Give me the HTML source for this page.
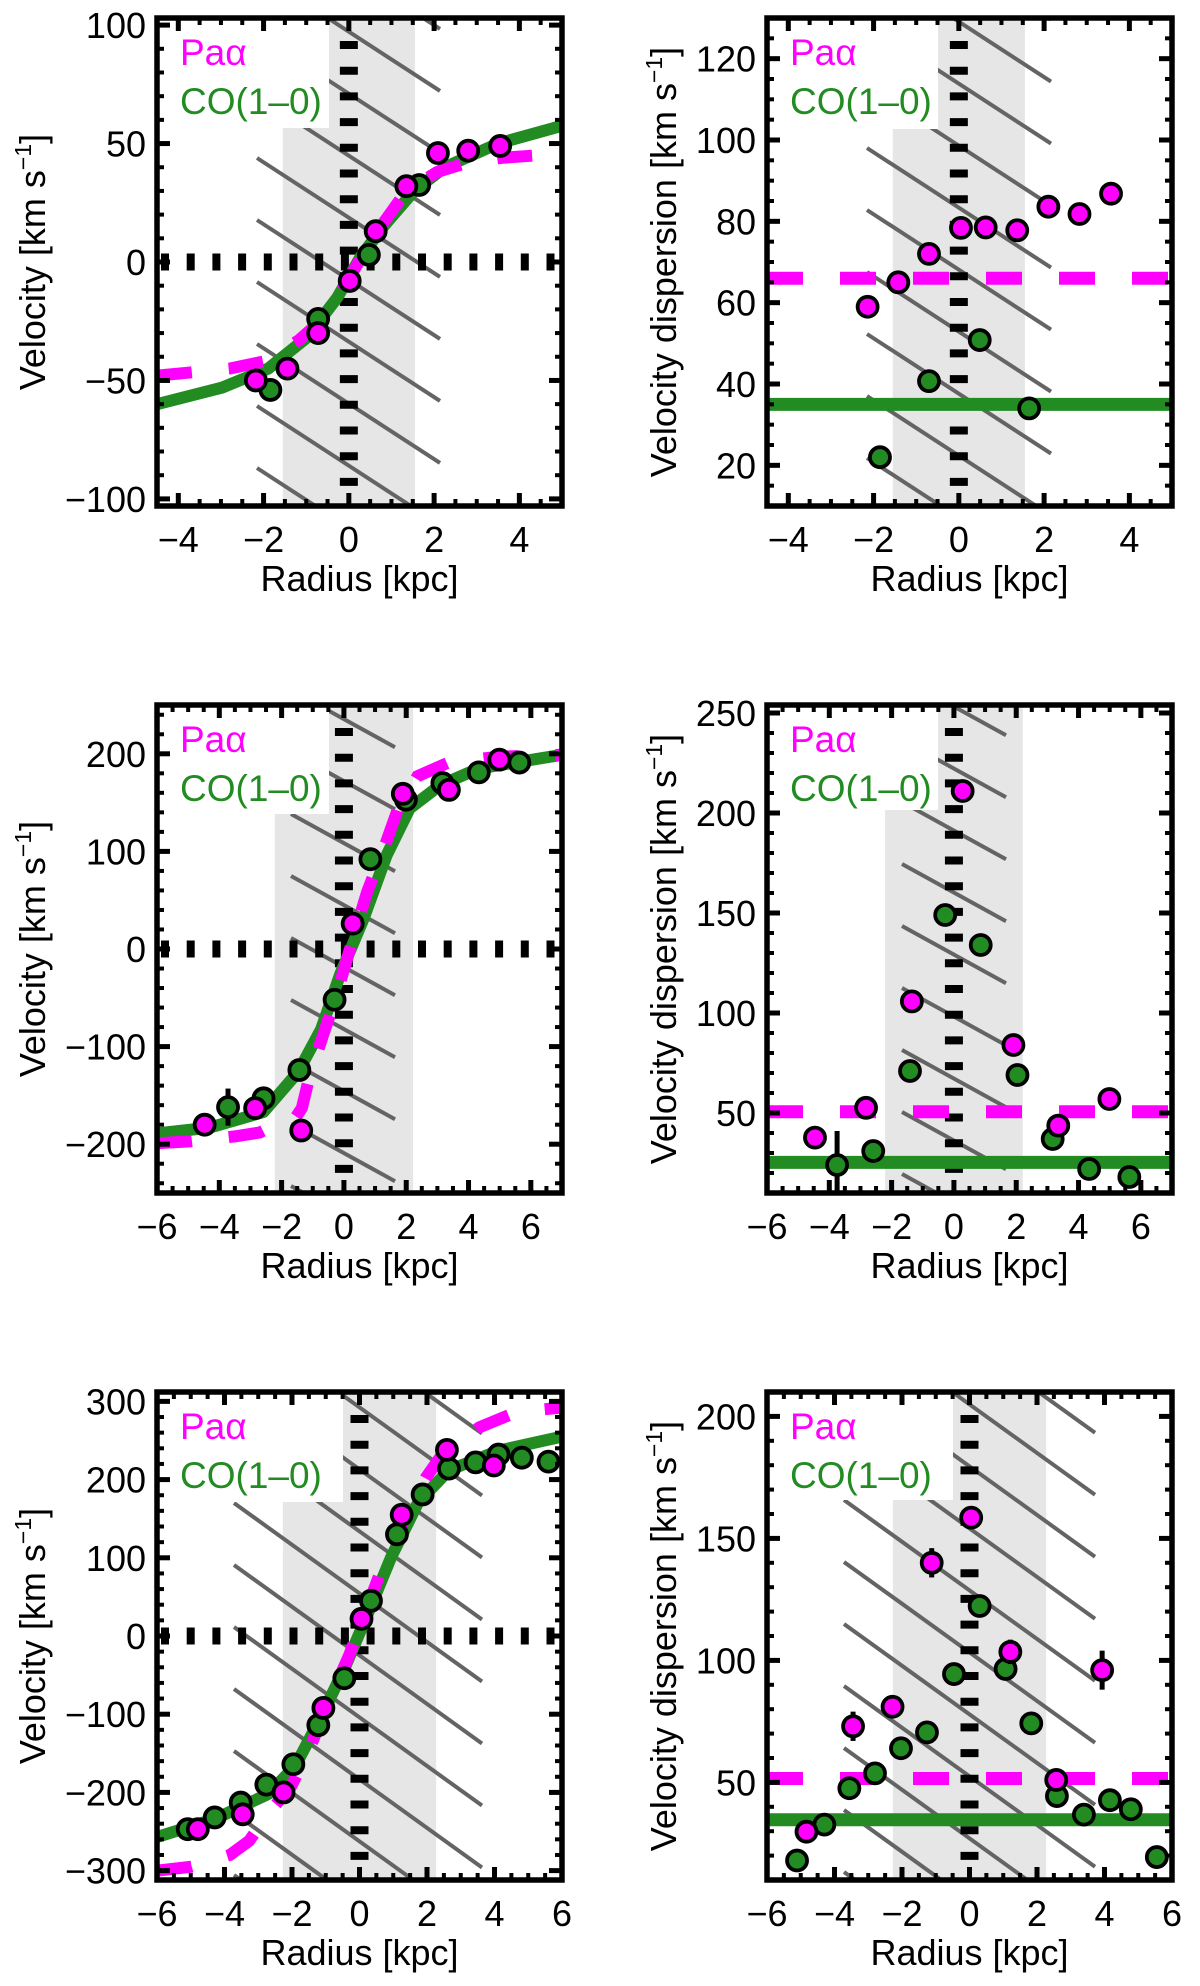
<!DOCTYPE html>
<html><head><meta charset="utf-8"><style>
html,body{margin:0;padding:0;background:#fff;overflow:hidden;width:1200px;height:1986px;}
svg{display:block;font-family:"Liberation Sans",Arial,sans-serif;}
</style></head><body>
<svg id="fig" width="1200" height="1986" viewBox="0 0 1200 1986" xmlns="http://www.w3.org/2000/svg"></svg>
<script>
// ---------- DATA ----------
const aPaX=[-2.18,-1.44,-0.72,0.02,0.63,1.35,2.09,2.80,3.55];
const aPaV=[-50,-45,-30,-8,13,32,46,47,49];
const aCoX=[-1.84,-0.72,0.47,1.65];
const aCoV=[-54,-24,3,32.5];
const aCoCurveX=[-4.5,-2.97,-1.89,-0.99,-0.27,0.27,0.81,1.53,2.25,3.5,5.0];
const aCoCurveV=[-60,-53,-45,-32,-15,2,15,30,40,50,57.5];
const aPaCurveX=[-4.5,-2.8,-2.0,-1.17,-0.54,0,0.63,1.35,2.07,2.79,3.6,4.4];
const aPaCurveV=[-48,-45,-42,-33,-23,-7,12,30,38,42,44,45];
const bPaX=[-2.14,-1.42,-0.70,0.05,0.63,1.37,2.10,2.83,3.57];
const bPaV=[59,65,72,78.4,78.5,77.8,83.6,81.8,86.8];
const bPaErr=[0,0,0,0,0,0,0,0,2.5];
const bCoX=[-1.85,-0.70,0.49,1.65];
const bCoV=[22,40.7,50.8,34];
const bCoErr=[0,0,0,0];
const bPaLevel=[66];
const bCoLevel=[35];
const cPaX=[-4.47,-2.85,-1.37,0.28,1.89,3.37,4.99];
const cPaV=[-180,-163,-186,26,159,163,194];
const cCoX=[-3.72,-2.58,-1.43,-0.30,0.85,1.99,3.16,4.33,5.63];
const cCoV=[-162,-153,-124,-52,92,153,170,181,191];
const cCoErr=[19,0,0,0,0,0,0,0,0];
const cCoCurveX=[-6,-4.31,-2.58,-1.47,-0.73,-0.11,0.63,1.37,2.11,3.1,4.33,7.0];
const cCoCurveV=[-189,-183,-167,-126,-82,-25,31,96,144,168,185,199];
const cPaCurveX=[-6,-4.9,-3.5,-2.7,-2.2,-1.6,-1.35,-1.1,-0.73,-0.23,0.26,0.75,1.25,1.74,2.36,3.35,4.95,7.0];
const cPaCurveV=[-199,-197,-192,-188,-180,-175,-163,-130,-94,-46,7,59,100,144,177,191,197,199];
const dPaX=[-4.46,-2.82,-1.35,0.28,1.91,3.35,4.99];
const dPaV=[37.7,52.6,105.8,211,84,43.7,57];
const dPaErr=[0,0,0,0,5,5,0];
const dCoX=[-3.75,-2.59,-1.41,-0.28,0.86,2.04,3.17,4.34,5.63];
const dCoV=[24,31,71,149,134,69,37,22,18];
const dCoErr=[17,0,0,0,0,0,0,0,0];
const dPaLevel=[50.6];
const dCoLevel=[25.3];
const ePaX=[-4.79,-3.46,-2.25,-1.07,0.06,1.25,2.59,3.98];
const ePaV=[-247,-228,-200,-92,22,155,238,218];
const eCoX=[-5.09,-4.29,-3.52,-2.76,-1.96,-1.22,-0.45,0.34,1.11,1.87,2.65,3.44,4.12,4.81,5.6];
const eCoV=[-247,-232,-213,-190,-164,-114,-54,45,130,181,214,222,232,228,223];
const eCoCurveX=[-6,-4.29,-2.7,-1.9,-1.11,-0.43,0.26,0.94,1.74,2.65,4.12,6.0];
const eCoCurveV=[-257,-234,-202,-166,-101,-40,30,101,171,212,237,255];
const ePaCurveX=[-6,-4.98,-3.84,-3.27,-2.7,-2.02,-1.45,-0.88,-0.31,0.26,0.83,1.39,1.96,2.53,3.56,4.69,6.0];
const ePaCurveV=[-300,-295,-280,-262,-227,-192,-141,-81,-25,40,106,156,202,237,267,287,292];
const fPaX=[-4.83,-3.45,-2.28,-1.12,0.05,1.21,2.57,3.93];
const fPaV=[29.8,73,81,140,158.5,103.5,51,96];
const fPaErr=[0,6,0,6,0,5,0,8];
const fCoX=[-5.11,-4.30,-3.56,-2.80,-2.03,-1.26,-0.46,0.30,1.07,1.83,2.59,3.39,4.16,4.78,5.55];
const fCoV=[18,32.7,47.6,53.7,64,70.5,94.4,122.3,96.5,74.2,44.4,36.8,42.7,39,19.4];
const fCoErr=[0,0,0,0,0,0,0,0,0,0,0,0,0,0,0];
const fPaLevel=[51.6];
const fCoLevel=[34.7];
const xTicksAB=[-4,-2,0,2,4];
const xTicksCDEF=[-6,-4,-2,0,2,4,6];
const yTicksA=[-100,-50,0,50,100];
const yTicksB=[20,40,60,80,100,120];
const yTicksC=[-200,-100,0,100,200];
const yTicksD=[50,100,150,200,250];
const yTicksE=[-300,-200,-100,0,100,200,300];
const yTicksF=[50,100,150,200];

// ---------- RENDER ----------
const NS="http://www.w3.org/2000/svg";
const svg=document.getElementById('fig');
const MAG="#ff00ff", GRN="#228b22";
function el(tag,attrs,parent){const e=document.createElementNS(NS,tag);for(const k in attrs)e.setAttribute(k,attrs[k]);(parent||svg).appendChild(e);return e;}
function fmt(v){return v<0?"\u2212"+Math.abs(v):String(v);}

function panel(c){
  const g=el('g',{});
  
  
  const X=v=>c.x0+(v-c.xmin)/(c.xmax-c.xmin)*c.w;
  const Y=v=>c.y0+c.h-(v-c.ymin)/(c.ymax-c.ymin)*c.h;
  const cid='clip-'+c.name;
  const cp=el('clipPath',{id:cid},g);el('rect',{x:c.x0,y:c.y0,width:c.w,height:c.h},cp);
  const inner=el('g',{'clip-path':'url(#'+cid+')'},g);
  const band=el('rect',{x:X(-c.band),y:c.y0,width:X(c.band)-X(-c.band),height:c.h,fill:'#e6e6e6'},inner);
  
  
  const hg=el('g',{stroke:'#646464',"stroke-width":4},inner);
  
  
  for(let k=-25;k<=25;k++){
    const yb=c.hpy+k*62;
    el('line',{x1:c.hx1,y1:yb+c.hs*(c.hx1-c.hpx),x2:c.hx2,y2:yb+c.hs*(c.hx2-c.hpx)},hg);
  }
  el('rect',{x:c.x0,y:c.y0,width:c.boxW,height:c.boxH,fill:'#fff'},inner);
  const vz=el('line',{x1:X(0),y1:c.y0+23,x2:X(0),y2:c.y0+c.h,stroke:'#000',"stroke-width":18,"stroke-dasharray":"8 17.7"},inner);
  
  
  if(c.ymin<0){
    const hz=el('line',{x1:c.x0+4,y1:Y(0),x2:c.x0+c.w,y2:Y(0),stroke:'#000',"stroke-width":17,"stroke-dasharray":"8 17.7"},inner);
    
    
  }
  if(c.coLevel){const l=el('line',{x1:c.x0,y1:Y(c.coLevel[0]),x2:c.x0+c.w,y2:Y(c.coLevel[0]),stroke:GRN,"stroke-width":13},inner);
    
    }
  if(c.paLevel){const l=el('line',{x1:c.x0,y1:Y(c.paLevel[0]),x2:c.x0+c.w,y2:Y(c.paLevel[0]),stroke:MAG,"stroke-width":13,"stroke-dasharray":"36 37"},inner);
    
    }
  if(c.coCX){const p=el('polyline',{points:c.coCX.map((x,i)=>X(x)+','+Y(c.coCV[i])).join(' '),fill:'none',stroke:GRN,"stroke-width":12,"stroke-linejoin":"round"},inner);
    
    }
  if(c.paCX){const p=el('polyline',{points:c.paCX.map((x,i)=>X(x)+','+Y(c.paCV[i])).join(' '),fill:'none',stroke:MAG,"stroke-width":12,"stroke-dasharray":"35 37"},inner);
    
    }
  function pts(xs,vs,errs,col,nm){
    xs.forEach((x,i)=>{
      if(errs&&errs[i]>0){const e=el('line',{x1:X(x),y1:Y(vs[i]-errs[i]),x2:X(x),y2:Y(vs[i]+errs[i]),stroke:'#000',"stroke-width":5},inner);
        
        }
      const m=el('circle',{cx:X(x),cy:Y(vs[i]),r:10,fill:col,stroke:'#000',"stroke-width":3.8},inner);
      
      
    });
  }
  pts(c.coX,c.coV,c.coErr,GRN,'co');
  pts(c.paX,c.paV,c.paErr,MAG,'paa');
  const t1=el('text',{x:c.x0+23,y:c.y0+47,fill:MAG,"font-size":37},g);t1.textContent="Pa\u03b1";
  
  
  const t2=el('text',{x:c.x0+23,y:c.y0+96,fill:GRN,"font-size":37},g);t2.textContent="CO(1\u20130)";
  
  
  const tg=el('g',{stroke:'#000'},g);
  function minors(step,minV,maxV,div,fn){
    const d=step/div;const start=Math.ceil(minV/d-1e-6)*d;
    for(let v=start;v<=maxV+1e-6;v+=d){fn(v,Math.abs(v/step-Math.round(v/step))<1e-6);}
  }
  const xs=c.xt[1]-c.xt[0], ys=c.yt[1]-c.yt[0];
  minors(xs,c.xmin,c.xmax,4,(v,maj)=>{const L=maj?13:7,px=X(v);
    el('line',{x1:px,y1:c.y0+c.h,x2:px,y2:c.y0+c.h-L,"stroke-width":maj?5:4},tg);
    el('line',{x1:px,y1:c.y0,x2:px,y2:c.y0+L,"stroke-width":maj?5:4},tg);});
  minors(ys,c.ymin,c.ymax,c.ydiv||5,(v,maj)=>{const L=maj?13:7,py=Y(v);
    el('line',{x1:c.x0,y1:py,x2:c.x0+L,y2:py,"stroke-width":maj?5:4},tg);
    el('line',{x1:c.x0+c.w,y1:py,x2:c.x0+c.w-L,y2:py,"stroke-width":maj?5:4},tg);});
  const fr=el('rect',{x:c.x0,y:c.y0,width:c.w,height:c.h,fill:'none',stroke:'#000',"stroke-width":5.5},g);
  
  
  c.xt.forEach(v=>{const t=el('text',{x:X(v),y:c.y0+c.h+46,"font-size":36,"text-anchor":"middle"},g);t.textContent=fmt(v);
    
    });
  c.yt.forEach(v=>{const t=el('text',{x:c.x0-11,y:Y(v)+13,"font-size":36,"text-anchor":"end"},g);t.textContent=fmt(v);
    
    });
  const xt=el('text',{x:c.x0+c.w/2,y:c.y0+c.h+85,"font-size":36,"text-anchor":"middle"},g);xt.textContent="Radius [kpc]";
  
  
  const yt=el('text',{transform:`translate(${c.ytx},${c.y0+c.h/2}) rotate(-90)`,"font-size":36,"text-anchor":"middle"},g);
  
  
  const s1=el('tspan',{},yt);s1.textContent=c.ytitle+" [km s";
  const s2=el('tspan',{dy:-14,"font-size":23},yt);s2.textContent="\u22121";
  const s3=el('tspan',{dy:14},yt);s3.textContent="]";
}

const L=157,R=767,W=405,H=488,T1=18,T2=705,T3=1392;
panel({name:'panel-a-velocity',x0:L,y0:T1,w:W,h:H,xmin:-4.5,xmax:5,ymin:-103,ymax:103,xt:xTicksAB,yt:yTicksA,ydiv:5,band:1.55,
  hx1:257,hx2:440,hpx:257,hpy:158,hs:0.65,boxW:172,boxH:110,ytitle:"Velocity",ytx:45,
  paX:aPaX,paV:aPaV,coX:aCoX,coV:aCoV,coCX:aCoCurveX,coCV:aCoCurveV,paCX:aPaCurveX,paCV:aPaCurveV});
panel({name:'panel-b-dispersion',x0:R,y0:T1,w:W,h:H,xmin:-4.5,xmax:5,ymin:10,ymax:130,xt:xTicksAB,yt:yTicksB,ydiv:4,band:1.55,
  hx1:867,hx2:1051,hpx:867,hpy:148,hs:0.65,boxW:171,boxH:111,ytitle:"Velocity dispersion",ytx:676,
  paX:bPaX,paV:bPaV,paErr:bPaErr,coX:bCoX,coV:bCoV,coErr:bCoErr,paLevel:bPaLevel,coLevel:bCoLevel});
panel({name:'panel-c-velocity',x0:L,y0:T2,w:W,h:H,xmin:-6,xmax:7,ymin:-250,ymax:250,xt:xTicksCDEF,yt:yTicksC,ydiv:5,band:2.22,
  hx1:291,hx2:395,hpx:291,hpy:814,hs:0.55,boxW:172,boxH:109,ytitle:"Velocity",ytx:45,
  paX:cPaX,paV:cPaV,coX:cCoX,coV:cCoV,coErr:cCoErr,coCX:cCoCurveX,coCV:cCoCurveV,paCX:cPaCurveX,paCV:cPaCurveV});
panel({name:'panel-d-dispersion',x0:R,y0:T2,w:W,h:H,xmin:-6,xmax:7,ymin:10,ymax:254,xt:xTicksCDEF,yt:yTicksD,ydiv:5,band:2.21,
  hx1:902,hx2:1006,hpx:902,hpy:864,hs:0.55,boxW:171,boxH:105,ytitle:"Velocity dispersion",ytx:676,
  paX:dPaX,paV:dPaV,paErr:dPaErr,coX:dCoX,coV:dCoV,coErr:dCoErr,paLevel:dPaLevel,coLevel:dCoLevel});
panel({name:'panel-e-velocity',x0:L,y0:T3,w:W,h:H,xmin:-6,xmax:6,ymin:-312,ymax:312,xt:xTicksCDEF,yt:yTicksE,ydiv:5,band:2.27,
  hx1:234,hx2:482,hpx:234,hpy:1503,hs:0.72,boxW:186,boxH:110,ytitle:"Velocity",ytx:45,
  paX:ePaX,paV:ePaV,coX:eCoX,coV:eCoV,coCX:eCoCurveX,coCV:eCoCurveV,paCX:ePaCurveX,paCV:ePaCurveV});
panel({name:'panel-f-dispersion',x0:R,y0:T3,w:W,h:H,xmin:-6,xmax:6,ymin:10,ymax:210,xt:xTicksCDEF,yt:yTicksF,ydiv:5,band:2.27,
  hx1:844,hx2:1095,hpx:844,hpy:1500,hs:0.72,boxW:186,boxH:108,ytitle:"Velocity dispersion",ytx:676,
  paX:fPaX,paV:fPaV,paErr:fPaErr,coX:fCoX,coV:fCoV,coErr:fCoErr,paLevel:fPaLevel,coLevel:fCoLevel});
</script>
</body></html>
